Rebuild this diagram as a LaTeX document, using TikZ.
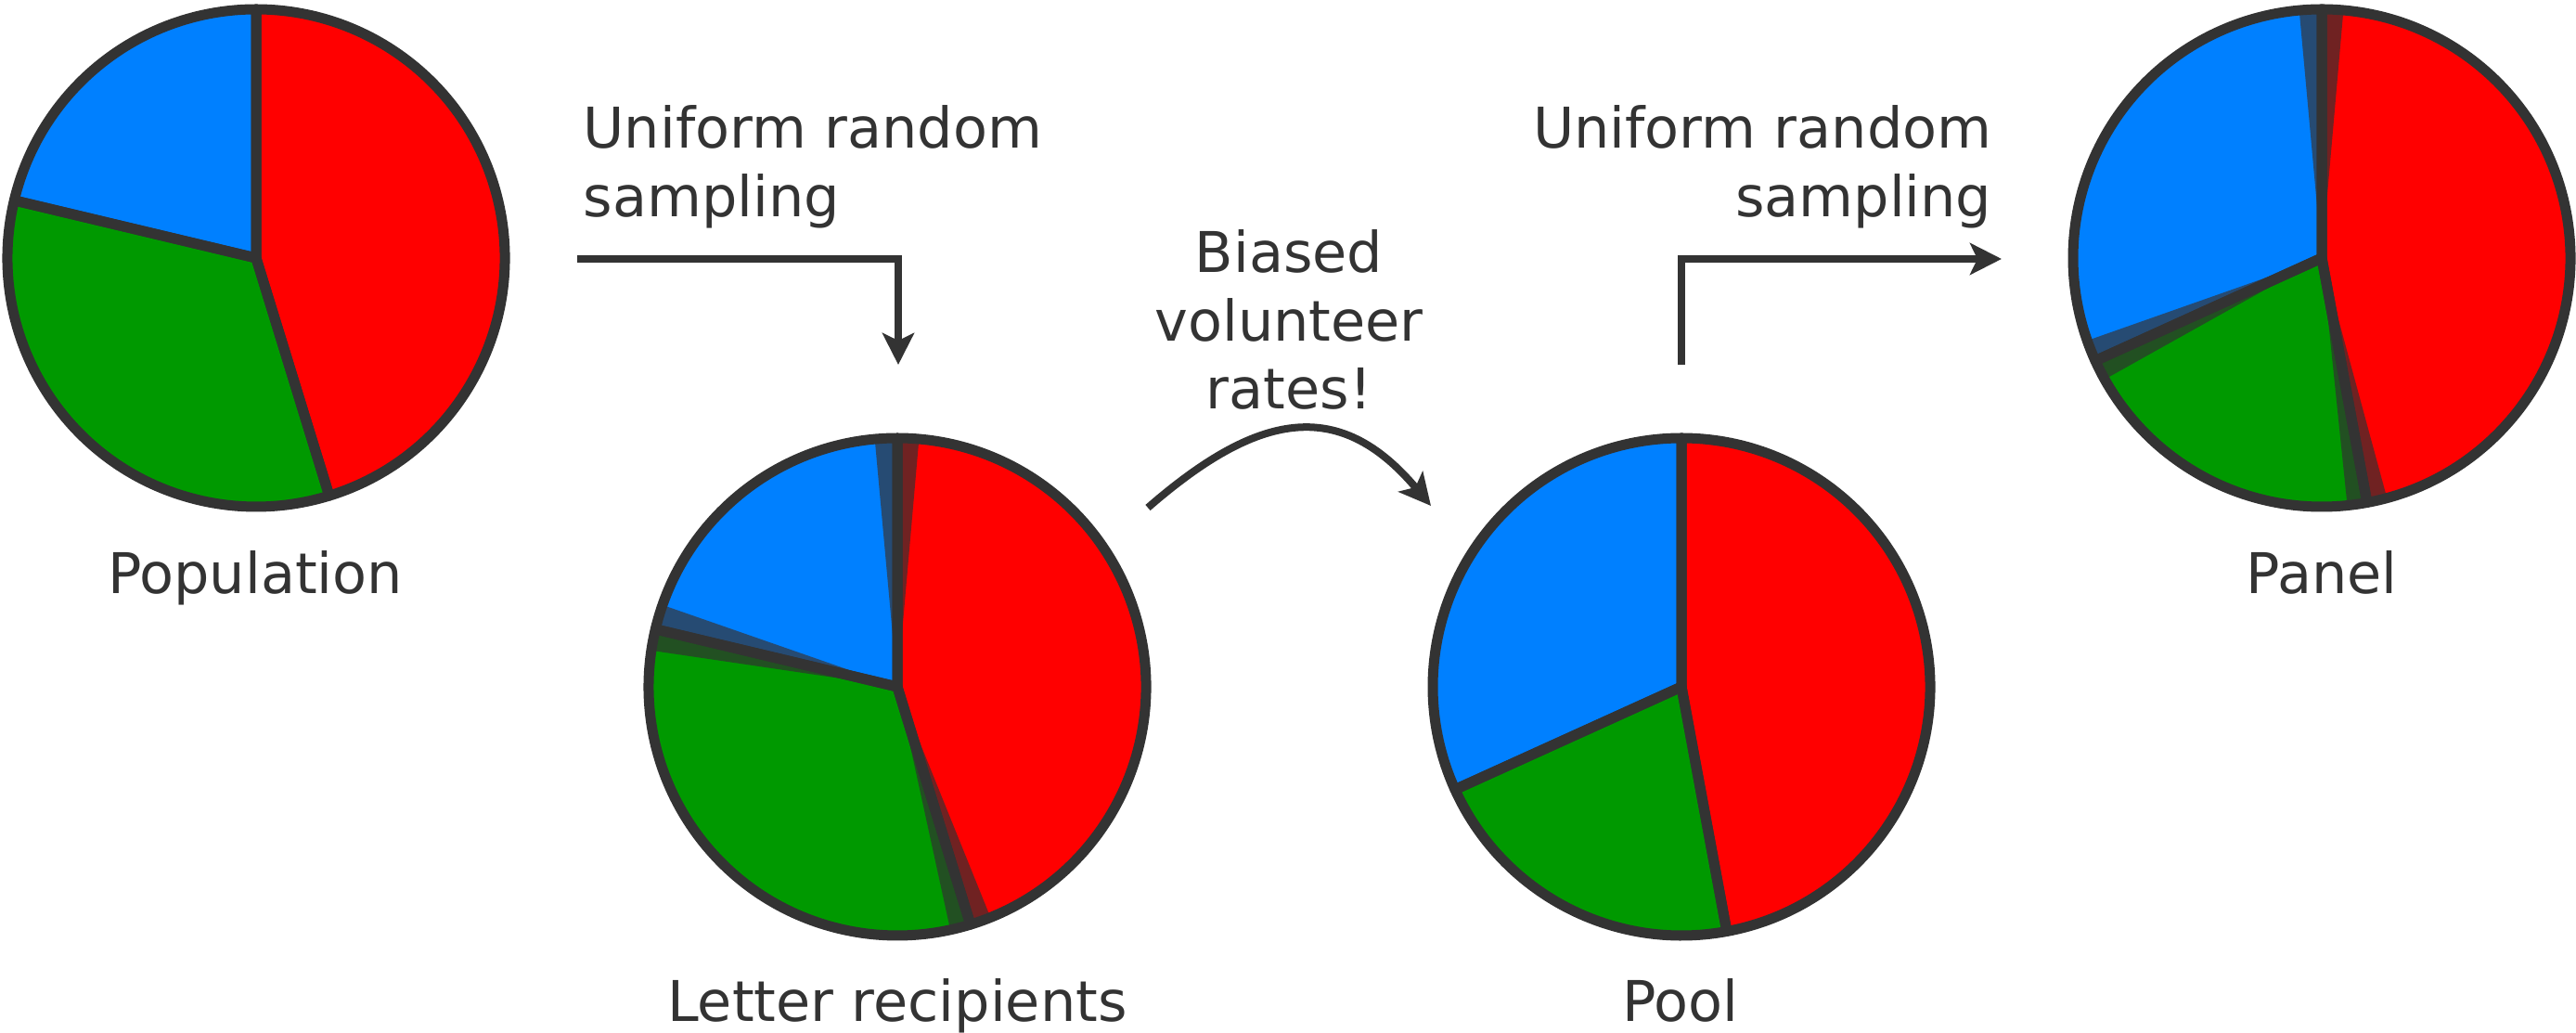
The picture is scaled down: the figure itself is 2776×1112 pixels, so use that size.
\documentclass[tikz,border=0pt]{standalone}
\usepackage{fontspec}
\setmainfont{DejaVu Sans}
\usetikzlibrary{arrows.meta}
\definecolor{ink}{HTML}{333333}
\definecolor{pred}{HTML}{FF0000}
\definecolor{pgreen}{HTML}{009900}
\definecolor{pblue}{HTML}{0080FF}
\definecolor{dred}{RGB}{112,34,34}
\definecolor{dgreen}{RGB}{34,80,34}
\definecolor{dblue}{RGB}{38,75,115}
\tikzset{
  pieline/.style={draw=ink, line width=0.11cm, line join=round},
  conn/.style={draw=ink, line width=0.08cm, -{Stealth[length=0.34cm,width=0.34cm,inset=0.08cm]}},
  lbl/.style={text=ink, inner sep=0pt, font=\fontsize{17.2}{20.8}\selectfont},
}
\newcommand{\pslice}[4]{\fill[#4] (#1) -- ++(#2:268) arc[start angle=#2,end angle=#3,radius=268] -- cycle;}
\newcommand{\pedge}[3]{\draw[pieline] (#1) -- ++(#2:268) arc[start angle=#2,end angle=#3,radius=268] -- cycle;}
\begin{document}
\begin{tikzpicture}[x=0.01cm,y=0.01cm]
\useasboundingbox (0,0) rectangle (2776,1112);
% pie centres
\coordinate (c1) at (276,834);
\coordinate (c2) at (967,372);
\coordinate (c3) at (1812,372);
\coordinate (c4) at (2502,834);
% Population
\pslice{c1}{-72.9}{90}{pred}
\pslice{c1}{90}{166.6}{pblue}
\pslice{c1}{166.6}{287.1}{pgreen}
\pedge{c1}{-72.9}{90}
\pedge{c1}{90}{166.6}
\pedge{c1}{166.6}{287.1}
% Letter recipients
\pslice{c2}{-72.9}{90}{pred}
\pslice{c2}{90}{166.6}{pblue}
\pslice{c2}{166.6}{287.1}{pgreen}
\pslice{c2}{85}{90}{dred}
\pslice{c2}{-72.9}{-68}{dred}
\pslice{c2}{90}{95.2}{dblue}
\pslice{c2}{160.8}{166.6}{dblue}
\pslice{c2}{166.6}{171.6}{dgreen}
\pslice{c2}{282.3}{287.1}{dgreen}
\pedge{c2}{-72.9}{90}
\pedge{c2}{90}{166.6}
\pedge{c2}{166.6}{287.1}
% Pool
\pslice{c3}{-79.5}{90}{pred}
\pslice{c3}{90}{204.4}{pblue}
\pslice{c3}{204.4}{280.5}{pgreen}
\pedge{c3}{-79.5}{90}
\pedge{c3}{90}{204.4}
\pedge{c3}{204.4}{280.5}
% Panel
\pslice{c4}{-79.5}{90}{pred}
\pslice{c4}{90}{204.4}{pblue}
\pslice{c4}{204.4}{280.5}{pgreen}
\pslice{c4}{85}{90}{dred}
\pslice{c4}{-79.5}{-74.8}{dred}
\pslice{c4}{90}{95.2}{dblue}
\pslice{c4}{199.4}{204.4}{dblue}
\pslice{c4}{204.4}{209.2}{dgreen}
\pslice{c4}{275.9}{280.5}{dgreen}
\pedge{c4}{-79.5}{90}
\pedge{c4}{90}{204.4}
\pedge{c4}{204.4}{280.5}
% labels
\node[lbl,anchor=base] (lpop) at (275,472) {Population};
\node[lbl,anchor=base] (llet) at (967,12) {Letter recipients};
\node[lbl,anchor=base] (lpool) at (1811,12) {Pool};
\node[lbl,anchor=base] (lpanel) at (2502,472) {Panel};
\node[lbl,anchor=base west] (urs1) at (628,952) {\begin{tabular}[t]{@{}l@{}}Uniform random\\sampling\end{tabular}};
\node[lbl,anchor=base east] (urs2) at (2147,952) {\begin{tabular}[t]{@{}r@{}}Uniform random\\sampling\end{tabular}};
\node[lbl,anchor=base] (bias) at (1389,818) {\begin{tabular}[t]{@{}c@{}}Biased\\volunteer\\rates!\end{tabular}};
% connectors
\coordinate (a1s) at (622,833);
\coordinate (a1t) at (968,719);
\coordinate (a2s) at (1237,565);
\coordinate (a2t) at (1542,567);
\coordinate (a3s) at (1812,719);
\coordinate (a3t) at (2157,833);
\draw[conn] (a1s) -| (a1t);
\draw[conn] (a2s) to[out=41,in=130,looseness=1.3] (a2t);
\draw[conn] (a3s) |- (a3t);
\end{tikzpicture}
\end{document}
